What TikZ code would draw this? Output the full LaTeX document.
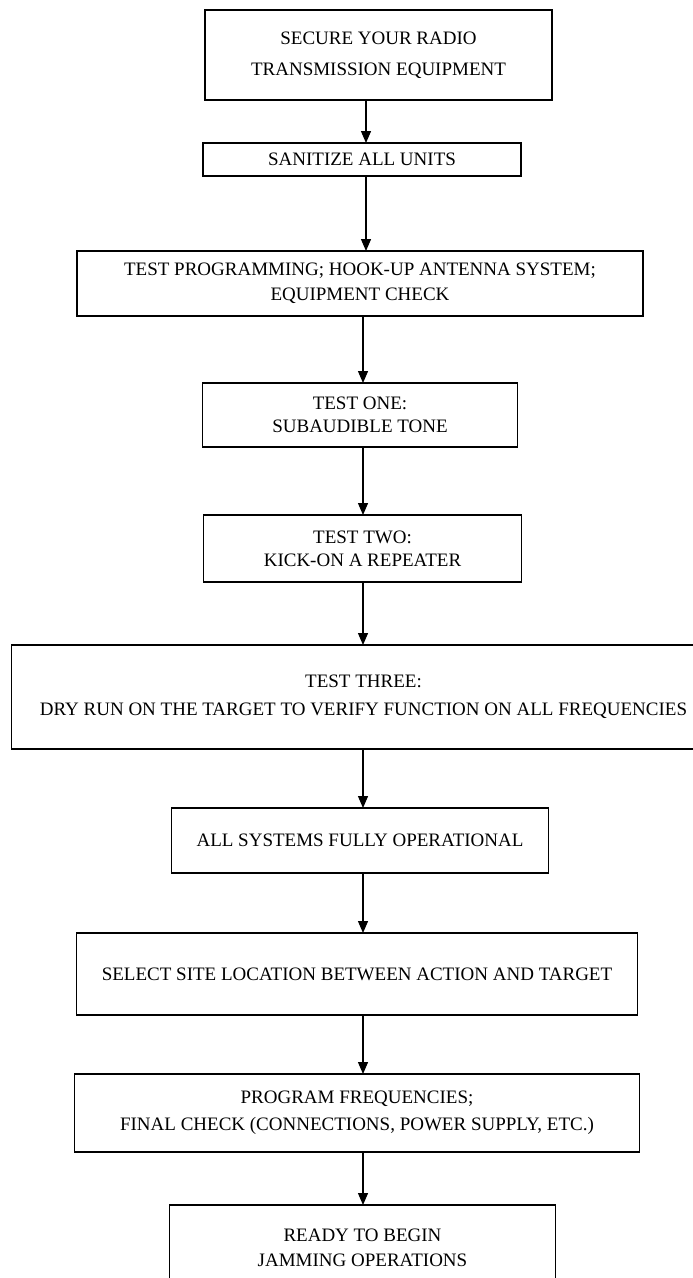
\documentclass[tikz,border=0pt]{standalone}
\usepackage{fontspec}
\setmainfont{Liberation Serif}
\usetikzlibrary{arrows.meta,positioning}
\tikzset{
	flow chart/.style={
		x=1pt, y=1pt,
		every node/.style={font=\fontsize{19}{25}\selectfont},
		node distance=60pt and 0pt
		},
	box/.style 2 args={draw, line width=1.5pt, align=center, inner sep=0pt, outer sep=0pt,
		minimum width=#1, minimum height=#2},
	ar/.style={line width=1.3pt, -{Triangle[length=12pt,width=10pt]}}
}

\begin{document}
\begin{tikzpicture}[flow chart]
  \path[use as bounding box, fill=white] (0,0) rectangle (693,-1278);
  \coordinate (spine) at (363,0);
  \node[box={347pt}{90pt}, font=\fontsize{19}{31}\selectfont] (secure) at (378.5,-55) {SECURE YOUR RADIO\\TRANSMISSION EQUIPMENT};
  \node[box={318pt}{33pt}, below=43pt of secure, xshift=-16.5pt] (sanitize) {SANITIZE ALL UNITS};
  \node[box={566pt}{65pt}, below=75pt of sanitize, xshift=-2pt] (testprog) {TEST PROGRAMMING; HOOK-UP ANTENNA SYSTEM;\\EQUIPMENT CHECK};
  \node[box={315pt}{64pt}, below=67pt of testprog, font=\fontsize{19}{23}\selectfont] (testone) {TEST ONE:\\SUBAUDIBLE TONE};
  \node[box={318pt}{67pt}, below=68pt of testone, xshift=2.5pt, font=\fontsize{19}{23}\selectfont] (testtwo) {TEST TWO:\\KICK-ON A REPEATER};
  \node[box={704pt}{104pt}, below=63pt of testtwo, xshift=1pt, font=\fontsize{19}{28}\selectfont] (testthree) {TEST THREE:\\DRY RUN ON THE TARGET TO VERIFY FUNCTION ON ALL FREQUENCIES};
  \node[box={377pt}{65pt}, below=59pt of testthree, xshift=-3.5pt] (operational) {ALL SYSTEMS FULLY OPERATIONAL};
  \node[box={561pt}{82pt}, below=60pt of operational, xshift=-3pt] (site) {SELECT SITE LOCATION BETWEEN ACTION AND TARGET};
  \node[box={565pt}{78pt}, below=59pt of site, font=\fontsize{19}{27}\selectfont] (program) {PROGRAM FREQUENCIES;\\FINAL CHECK (CONNECTIONS, POWER SUPPLY, ETC.)};
  \node[box={386pt}{86pt}, below=53pt of program, xshift=5.5pt] (ready) {READY TO BEGIN\\JAMMING OPERATIONS};
  \foreach \a/\b in {secure/sanitize, sanitize/testprog}
    \draw[ar] ([xshift=3pt]\a.south -| spine) -- ([xshift=3pt]\b.north -| spine);
  \foreach \a/\b in {testprog/testone, testone/testtwo, testtwo/testthree,
      testthree/operational, operational/site, site/program, program/ready}
    \draw[ar] (\a.south -| spine) -- (\b.north -| spine);
\end{tikzpicture}
\end{document}
